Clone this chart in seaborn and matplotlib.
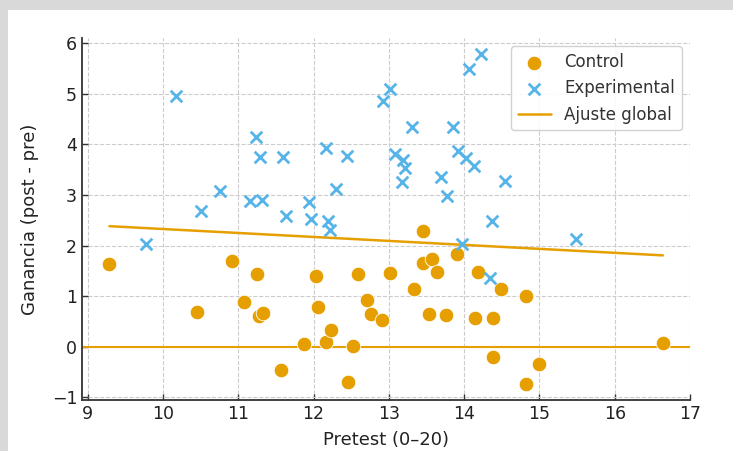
import numpy as np
import pandas as pd
import matplotlib
matplotlib.use("Agg")
import matplotlib.pyplot as plt
from matplotlib.patches import Rectangle
import seaborn as sns

# Control group: pretest score and gain (post - pre)
control_pre = [9.29, 10.45, 10.92, 11.07, 11.25, 11.27, 11.33, 11.57, 11.88, 12.03,
               12.06, 12.16, 12.23, 12.46, 12.52, 12.59, 12.71, 12.76, 12.91, 13.02,
               13.34, 13.45, 13.46, 13.54, 13.57, 13.64, 13.76, 13.90, 14.15, 14.19,
               14.38, 14.38, 14.49, 14.82, 14.82, 15.00, 16.64]
control_gain = [1.63, 0.69, 1.69, 0.89, 1.44, 0.61, 0.66, -0.45, 0.05, 1.40,
                0.79, 0.09, 0.33, -0.69, 0.01, 1.44, 0.92, 0.64, 0.53, 1.45,
                1.14, 1.66, 2.29, 0.64, 1.73, 1.48, 0.62, 1.84, 0.57, 1.48,
                0.57, -0.20, 1.15, 1.01, -0.73, -0.33, 0.07]

# Experimental group
exp_pre = [9.77, 10.18, 10.50, 10.76, 11.15, 11.24, 11.29, 11.31, 11.60, 11.64,
           11.94, 11.97, 12.16, 12.19, 12.22, 12.30, 12.45, 12.92, 13.02, 13.08,
           13.18, 13.19, 13.21, 13.31, 13.69, 13.77, 13.85, 13.92, 13.97, 14.02,
           14.06, 14.13, 14.22, 14.34, 14.37, 14.54, 15.48]
exp_gain = [2.03, 4.96, 2.68, 3.08, 2.88, 4.14, 3.74, 2.91, 3.74, 2.58,
            2.87, 2.52, 3.92, 2.49, 2.31, 3.11, 3.77, 4.86, 5.10, 3.81,
            3.25, 3.69, 3.54, 4.34, 3.36, 2.98, 4.34, 3.86, 2.04, 3.73,
            5.49, 3.57, 5.78, 1.36, 2.49, 3.28, 2.13]

x_ticks = [9, 10, 11, 12, 13, 14, 15, 16, 17]
y_ticks = [-1, 0, 1, 2, 3, 4, 5, 6]

ORANGE = "#E69F00"
BLUE = "#56B4E9"

df = pd.DataFrame({
    "pretest": control_pre + exp_pre,
    "ganancia": control_gain + exp_gain,
    "grupo": ["Control"] * len(control_pre) + ["Experimental"] * len(exp_pre),
})

sns.set_style("ticks")
plt.rcParams["font.family"] = ["DejaVu Sans"]

fig = plt.figure(figsize=(7.33, 4.51), dpi=100)
fig.patch.set_facecolor("white")
# light grey frame strips along the top and left edges
fig.patches.append(Rectangle((0, 1 - 10 / 451), 1, 10 / 451, transform=fig.transFigure,
                             facecolor="#d9d9d9", edgecolor="none", zorder=0))
fig.patches.append(Rectangle((0, 0), 8 / 733, 1, transform=fig.transFigure,
                             facecolor="#d9d9d9", edgecolor="none", zorder=0))

ax = fig.add_axes([82 / 733, 1 - 400 / 451, 608 / 733, 362 / 451])

ctrl = df[df.grupo == "Control"]
expe = df[df.grupo == "Experimental"]

sns.scatterplot(data=ctrl, x="pretest", y="ganancia", ax=ax, color=ORANGE,
                marker="o", s=110, edgecolor="white", linewidth=0.6,
                label="Control", zorder=3)
sns.scatterplot(data=expe, x="pretest", y="ganancia", ax=ax, color=BLUE,
                marker="x", s=70, linewidth=2.0, label="Experimental", zorder=3)

# overall linear fit over both groups
sns.regplot(data=df, x="pretest", y="ganancia", ax=ax, scatter=False, ci=None,
            truncate=True, color=ORANGE, label="Ajuste global",
            line_kws={"lw": 1.8, "zorder": 2})

ax.axhline(0, color=ORANGE, lw=1.5, zorder=2)

ax.set_xlim(8.925, 17.0)
ax.set_ylim(-1.05, 6.1)
ax.set_xticks(x_ticks)
ax.set_yticks(y_ticks)

ax.grid(True, linestyle="--", color="#cccccc", linewidth=0.8)
ax.set_axisbelow(True)

for side in ("top", "right"):
    ax.spines[side].set_visible(False)
for side in ("left", "bottom"):
    ax.spines[side].set_color("#333333")
    ax.spines[side].set_linewidth(1.3)

ax.tick_params(direction="in", length=4, width=1.0, colors="#333333",
               labelsize=12.5, labelcolor="#222222")

ax.set_xlabel("Pretest (0–20)", fontsize=13, color="#222222", labelpad=6)
ax.set_ylabel("Ganancia (post - pre)", fontsize=13, color="#222222", labelpad=9)

leg = ax.legend(loc="upper right", fontsize=12, frameon=True, fancybox=True,
                edgecolor="#cccccc", framealpha=0.9, handlelength=2.0)
for t in leg.get_texts():
    t.set_color("#333333")

fig.savefig("out.png", dpi=100, facecolor=fig.get_facecolor())
